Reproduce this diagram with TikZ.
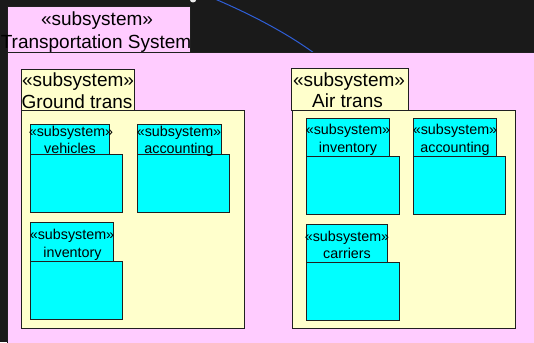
\documentclass[tikz,border=0pt]{standalone}
\usepackage{fontspec}
\setmainfont{Liberation Sans}
\definecolor{bgdark}{HTML}{1A1A1A}
\definecolor{pinkfill}{HTML}{FFCCFF}
\definecolor{creamfill}{HTML}{FFFFCC}
\definecolor{cyanfill}{HTML}{00FFFF}
\definecolor{edge}{HTML}{202020}
\definecolor{curveblue}{HTML}{2F5FD8}
\begin{document}
\begin{tikzpicture}[x=1pt,y=-1pt,
  box/.style={draw=edge,line width=0.9pt},
  outerbox/.style={box,fill=pinkfill},
  groupbox/.style={box,fill=creamfill},
  leafbox/.style={box,fill=cyanfill},
  biglabel/.style={anchor=base,inner sep=0pt,font=\fontsize{19}{23}\selectfont},
  smalllabel/.style={anchor=base,inner sep=0pt,font=\fontsize{14.3}{17}\selectfont}]
\useasboundingbox (0,0) rectangle (534,342);
\clip (0,0) rectangle (534,342);
\fill[bgdark] (0,0) rectangle (534,342);
% blue curve and tiny mark at top
\coordinate (cstart) at (215,-1);
\coordinate (cend) at (314,53);
\draw[curveblue,line width=1pt] (cstart) .. controls (250,14) and (285,32) .. (cend);
\fill[white!85!gray] (193,0) ellipse (3 and 2.5);
% outer package
\node[outerbox,minimum width=183,minimum height=46,anchor=north west,inner sep=0pt] (outertab) at (7,6) {};
\node[outerbox,minimum width=540,minimum height=300,anchor=north west,inner sep=0pt] (outerbody) at (7,52) {};
\node[biglabel] (outerst) at (97,26) {«subsystem»};
\node[biglabel] (outername) at (96,49) {Transportation System};
% ground trans
\node[groupbox,minimum width=113,minimum height=41,anchor=north west,inner sep=0pt] (gtab) at (21,69) {};
\node[groupbox,minimum width=223,minimum height=218,anchor=north west,inner sep=0pt] (gbody) at (21,110) {};
\node[biglabel] (gst) at (78,86) {«subsystem»};
\node[biglabel] (gname) at (77,108) {Ground trans};
% ground: vehicles
\node[leafbox,minimum width=79,minimum height=30,anchor=north west,inner sep=0pt] (vtab) at (30,124) {};
\node[leafbox,minimum width=92,minimum height=58,anchor=north west,inner sep=0pt] (vbody) at (30,154) {};
\node[smalllabel] (vst) at (71,136) {«subsystem»};
\node[smalllabel] (vname) at (70,153) {vehicles};
% ground: accounting
\node[leafbox,minimum width=84,minimum height=30,anchor=north west,inner sep=0pt] (gatab) at (137,124) {};
\node[leafbox,minimum width=92,minimum height=58,anchor=north west,inner sep=0pt] (gabody) at (137,154) {};
\node[smalllabel] (gast) at (179,136) {«subsystem»};
\node[smalllabel] (ganame) at (179,153) {accounting};
% ground: inventory
\node[leafbox,minimum width=83,minimum height=39,anchor=north west,inner sep=0pt] (gitab) at (30,222) {};
\node[leafbox,minimum width=92,minimum height=58,anchor=north west,inner sep=0pt] (gibody) at (30,261) {};
\node[smalllabel] (gist) at (72,239) {«subsystem»};
\node[smalllabel] (giname) at (72.5,257) {inventory};
% air trans
\node[groupbox,minimum width=117,minimum height=42,anchor=north west,inner sep=0pt] (atab) at (291,68) {};
\node[groupbox,minimum width=223,minimum height=218,anchor=north west,inner sep=0pt] (abody) at (292,110) {};
\node[biglabel] (ast) at (349,86) {«subsystem»};
\node[biglabel] (aname) at (347.5,107) {Air trans};
% air: inventory
\node[leafbox,minimum width=83,minimum height=38,anchor=north west,inner sep=0pt] (aitab) at (306,118) {};
\node[leafbox,minimum width=93,minimum height=58,anchor=north west,inner sep=0pt] (aibody) at (306,156) {};
\node[smalllabel] (aist) at (348,134) {«subsystem»};
\node[smalllabel] (ainame) at (348,152) {inventory};
% air: accounting
\node[leafbox,minimum width=83,minimum height=38,anchor=north west,inner sep=0pt] (aatab) at (413,118) {};
\node[leafbox,minimum width=92,minimum height=58,anchor=north west,inner sep=0pt] (aabody) at (413,156) {};
\node[smalllabel] (aast) at (455,134) {«subsystem»};
\node[smalllabel] (aaname) at (455,152) {accounting};
% air: carriers
\node[leafbox,minimum width=81,minimum height=38,anchor=north west,inner sep=0pt] (actab) at (306,224) {};
\node[leafbox,minimum width=93,minimum height=58,anchor=north west,inner sep=0pt] (acbody) at (306,262) {};
\node[smalllabel] (acst) at (347,241) {«subsystem»};
\node[smalllabel] (acname) at (347,258) {carriers};
\end{tikzpicture}
\end{document}
